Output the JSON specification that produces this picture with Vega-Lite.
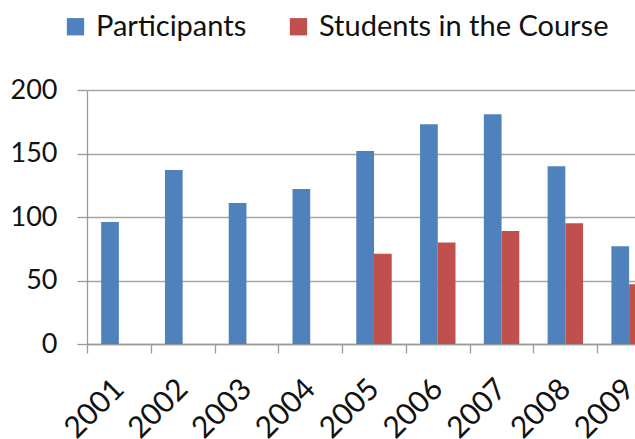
{
  "$schema": "https://vega.github.io/schema/vega-lite/v6.json",
  "autosize": {"type": "none"},
  "padding": {"left": 87, "top": 90, "right": 0, "bottom": 95},
  "width": 548,
  "height": 254,
  "background": "white",
  "config": {
    "view": {"stroke": null},
    "font": "Lato",
    "axis": {"labelFont": "Lato", "labelFontSize": 27, "labelColor": "#111111", "domainColor": "#9a9a9a", "tickColor": "#9a9a9a", "gridColor": "#a6a6a6", "domainWidth": 1.3, "tickWidth": 1.3, "gridWidth": 1.3}
  },
  "data": {
    "values": [
      {"year": "2001", "series": "Participants", "value": 96},
      {"year": "2002", "series": "Participants", "value": 137},
      {"year": "2003", "series": "Participants", "value": 111},
      {"year": "2004", "series": "Participants", "value": 122},
      {"year": "2005", "series": "Participants", "value": 152},
      {"year": "2006", "series": "Participants", "value": 173},
      {"year": "2007", "series": "Participants", "value": 181},
      {"year": "2008", "series": "Participants", "value": 140},
      {"year": "2009", "series": "Participants", "value": 77},
      {"year": "2005", "series": "Students in the Course", "value": 71},
      {"year": "2006", "series": "Students in the Course", "value": 80},
      {"year": "2007", "series": "Students in the Course", "value": 89},
      {"year": "2008", "series": "Students in the Course", "value": 95},
      {"year": "2009", "series": "Students in the Course", "value": 47}
    ]
  },
  "mark": {"type": "bar", "clip": true},
  "encoding": {
    "x": {
      "field": "year", "type": "ordinal",
      "scale": {"domain": ["2001","2002","2003","2004","2005","2006","2007","2008","2009"], "range": [0, 574], "paddingInner": 0, "paddingOuter": 0},
      "axis": {"title": null, "labelAngle": -45, "labelAlign": "right", "labelBaseline": "middle", "labelFontSize": 30, "labelPadding": 31, "tickSize": 9, "tickBand": "extent", "grid": false, "labelOverlap": false}
    },
    "xOffset": {
      "field": "series", "type": "nominal",
      "scale": {"domain": ["Participants", "Students in the Course"], "paddingInner": 0, "paddingOuter": 0.8}
    },
    "y": {
      "field": "value", "type": "quantitative",
      "scale": {"domain": [0, 200], "nice": false},
      "axis": {"title": null, "values": [0, 50, 100, 150, 200], "tickSize": 10, "labelPadding": 20, "grid": true}
    },
    "color": {
      "field": "series", "type": "nominal",
      "scale": {"domain": ["Participants", "Students in the Course"], "range": ["#4F81BD", "#C0504D"]},
      "legend": {
        "title": null, "orient": "none", "direction": "horizontal",
        "legendX": -26, "legendY": -78,
        "symbolType": "square", "symbolSize": 300, "symbolStrokeWidth": 0,
        "labelFont": "Lato", "labelFontSize": 29, "labelColor": "#111111", "labelLimit": 600,
        "labelOffset": 6, "columnPadding": 37, "symbolOffset": 0
      }
    }
  }
}
